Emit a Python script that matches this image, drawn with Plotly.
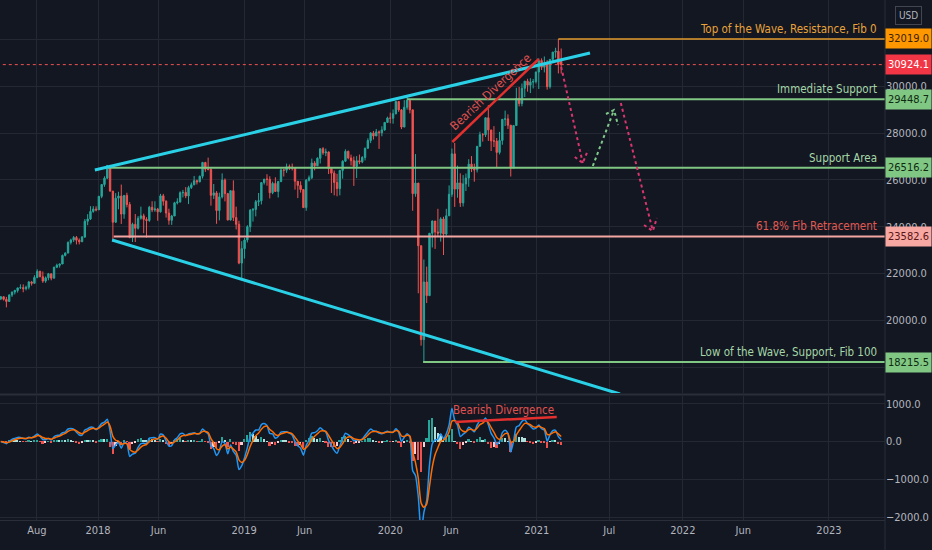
import pandas as pd
import plotly.graph_objects as go
from plotly.subplots import make_subplots

# ---------------- data (weekly DJI candles) ----------------
first_week = "2017-05-03"

opens = [
    20913, 21007, 20897, 20805, 21080, 21206, 21272, 21384, 21395, 21350, 21414, 21638, 21580, 21830, 22092, 21858, 21674, 21814,
    21988, 21798, 22268, 22350, 22405, 22773, 22871, 23329, 23434, 23539, 23422, 23358, 23558, 24231, 24329, 24651, 24754,
    24719, 25296, 25803, 26072, 26617, 25521, 24191, 25219, 25310, 24538, 25336, 24947, 23533, 24103, 23933, 24360, 24463, 24311,
    24263, 24831, 24715, 24753, 24635, 25317, 25090, 24581, 24271, 24456, 25019, 25058, 25451, 25463, 25313, 25669, 25790, 25965,
    25917, 26155, 26744, 26458, 26447, 25340, 25444, 24688, 25271, 25989, 25413, 24286, 25538, 24389, 24101, 22445,
    23062, 23433, 23996, 24706, 24737, 25064, 25106, 25883, 26031, 26026, 25450, 25849, 25502, 25929, 26425, 26412, 26559, 26543,
    26505, 25942, 25764, 25586, 24815, 25984, 26090, 26719, 26600, 26922, 27332, 27154, 27192, 26485, 26287, 25886, 25629, 26403,
    26797, 27220, 26935, 26820, 26573, 26817, 26770, 26958, 27347, 27681, 28005, 27876, 28051, 28015, 28135, 28455,
    28645, 28634, 28824, 29348, 28990, 28256, 29103, 29398, 28992, 25409, 25864, 23186, 19174, 21637, 21053, 23719, 24242, 23775,
    23724, 24331, 23685, 24465, 25383, 27111, 25606, 25871, 25016, 25827, 26075, 26672, 26470, 26428, 27433, 27931, 27930, 28654,
    28133, 27666, 27657, 27174, 27683, 28587, 28606, 28336, 26502, 28323, 29480, 29263, 29910, 30218, 30046, 30179, 30200,
    30606, 31098, 30814, 30997, 29983, 31148, 31458, 31494, 31065,
]
highs = [
    21033, 21013, 21000, 21112, 21225, 21305, 21392, 21536, 21535, 21480, 21681, 21681, 21929, 22179, 22118, 22085, 21874, 22024,
    21988, 22287, 22420, 22422, 22806, 22905, 23368, 23485, 23602, 23602, 23498, 23602, 24327, 24534, 24876, 24876, 24872,
    25316, 25810, 26153, 26617, 26617, 25521, 25432, 25490, 25800, 25336, 25449, 25052, 24170, 24540, 24450, 24858, 24554, 24404,
    24889, 25086, 25087, 24800, 25402, 25402, 25125, 24767, 24504, 25063, 25215, 25510, 25572, 25692, 25746, 25887, 26167, 26010,
    26181, 26769, 26769, 26951, 26500, 25824, 25520, 25452, 26277, 26062, 25443, 25539, 25980, 24856, 24253, 23381,
    23518, 24064, 24750, 24798, 25140, 25439, 25883, 26034, 26241, 26155, 25922, 26110, 25949, 26487, 26460, 26695, 26656, 26695,
    26505, 25942, 25938, 25600, 26036, 26186, 26907, 26800, 26966, 27332, 27398, 27335, 27212, 26485, 26400, 26259, 26429, 26837,
    27306, 27250, 27079, 26998, 27014, 27082, 27013, 27383, 27775, 28036, 28090, 28175, 28110, 28290, 28471, 28701,
    28872, 29009, 29374, 29373, 29028, 29409, 29568, 29410, 28992, 27102, 25864, 23186, 22595, 22293, 23719, 24264, 24242, 24764,
    24404, 24423, 24764, 25763, 27338, 27580, 26611, 26277, 26204, 26273, 26882, 27016, 26692, 27433, 28058, 28000, 28659, 29199,
    28133, 28295, 27788, 28050, 28600, 28958, 28800, 28336, 28347, 29933, 29967, 30117, 30219, 30319, 30343, 30309, 30627,
    31194, 31193, 31272, 31115, 31160, 31468, 31644, 32019, 31613,
]
lows = [
    20863, 20843, 20553, 20789, 20999, 21107, 21184, 21332, 21197, 21279, 21320, 21483, 21574, 21796, 21844, 21600, 21600, 21710,
    21709, 21798, 22229, 22250, 22405, 22730, 22866, 23237, 23349, 23242, 23242, 23340, 23523, 24065, 24285, 24595, 24653,
    24719, 25218, 25704, 26033, 25490, 23360, 24160, 24742, 24117, 24340, 24826, 23509, 23344, 23345, 23880, 24300, 23723, 23531,
    24205, 24621, 24634, 24253, 24602, 24900, 24387, 24084, 24076, 24456, 24951, 25030, 25250, 25217, 24965, 25611, 25770, 25803,
    25894, 26058, 26339, 26404, 24899, 25183, 24122, 24268, 25206, 25080, 24268, 24262, 24242, 23881, 22396, 21713,
    22638, 23325, 23774, 24218, 24439, 24883, 24950, 25800, 25750, 25208, 25387, 25502, 25247, 25900, 26143, 26300, 26420, 26403,
    25584, 25222, 25456, 24815, 24680, 25930, 26030, 26407, 26600, 26700, 27068, 27014, 26250, 25440, 25339, 25300, 25338, 26051,
    26769, 26880, 26615, 25743, 26078, 26670, 26711, 26832, 27347, 27570, 27726, 27876, 27325, 27863, 28100, 28440,
    28418, 28400, 28800, 28904, 28169, 28256, 29000, 28842, 24681, 25279, 21154, 18917, 18213, 20735, 21053, 23111, 23051, 23574,
    23362, 22789, 23617, 24465, 25273, 24843, 25236, 24843, 24862, 25523, 25704, 26333, 25922, 26317, 27433, 27633, 27831, 27664,
    27233, 27402, 26537, 27088, 27500, 28300, 28177, 26143, 26502, 28323, 29139, 29144, 29540, 29769, 29708, 29904, 30117,
    29881, 30694, 30591, 29856, 29900, 31002, 31215, 30548, 30547,
]
closes = [
    21007, 20897, 20805, 21080, 21206, 21272, 21384, 21395, 21350, 21414, 21638, 21580, 21830, 22092, 21858, 21674, 21814, 21988,
    21798, 22268, 22350, 22405, 22773, 22871, 23329, 23434, 23539, 23422, 23358, 23558, 24231, 24329, 24651, 24754, 24719,
    25296, 25803, 26072, 26617, 25521, 24191, 25219, 25310, 24538, 25336, 24947, 23533, 24103, 23933, 24360, 24463, 24311, 24263,
    24831, 24715, 24753, 24635, 25317, 25090, 24581, 24271, 24456, 25019, 25058, 25451, 25463, 25313, 25669, 25790, 25965, 25917,
    26155, 26744, 26458, 26447, 25340, 25444, 24688, 25271, 25989, 25413, 24286, 25538, 24389, 24101, 22445, 23062,
    23433, 23996, 24706, 24737, 25064, 25106, 25883, 26031, 26026, 25450, 25849, 25502, 25929, 26425, 26412, 26559, 26543, 26505,
    25942, 25764, 25586, 24815, 25984, 26090, 26719, 26600, 26922, 27332, 27154, 27192, 26485, 26287, 25886, 25629, 26403, 26797,
    27220, 26935, 26820, 26573, 26817, 26770, 26958, 27347, 27681, 28005, 27876, 28051, 28015, 28135, 28455, 28645,
    28634, 28824, 29348, 28990, 28256, 29103, 29398, 28992, 25409, 25864, 23186, 19174, 21637, 21053, 23719, 24242, 23775, 23724,
    24331, 23685, 24465, 25383, 27111, 25606, 25871, 25016, 25827, 26075, 26672, 26470, 26428, 27433, 27931, 27930, 28654, 28133,
    27666, 27657, 27174, 27683, 28587, 28606, 28336, 26502, 28323, 29480, 29263, 29910, 30218, 30046, 30179, 30200, 30606,
    31098, 30814, 30997, 29983, 31148, 31458, 31494, 30932, 30924,
]

# Horizontal levels
level_prices = [32019.0, 29448.7, 26516.2, 23582.6, 18215.5]
level_starts = ["2021-02-24", "2020-02-12", "2018-01-26", "2018-02-09", "2020-03-23"]
level_names = ["Top of the Wave, Resistance, Fib 0", "Immediate Support", "Support Area",
               "61.8% Fib Retracement", "Low of the Wave, Support, Fib 100"]
last_price = 30924.1

# Drawn trend lines (dates, prices)
wedge_top_x = ["2017-12-24", "2021-05-14"]
wedge_top_y = [26421, 31421]
wedge_bot_x = ["2018-02-05", "2021-07-28"]
wedge_bot_y = [23430, 16850]
div_price_x = ["2020-06-04", "2021-01-06"]
div_price_y = [27618, 31164]
div_macd_x = ["2020-06-11", "2021-02-20"]
div_macd_y = [520, 650]

# Projected path arrows (dotted): shaft start/end, wing-tip / tip / wing-tip
proj1_x = ["2021-03-03", "2021-04-26"]; proj1_y = [30823, 26720]
proj1_wx = ["2021-04-06", "2021-04-26", "2021-05-09"]; proj1_wy = [26977, 26720, 27276]
proj2_x = ["2021-05-21", "2021-07-13"]; proj2_y = [26592, 28985]
proj2_wx = ["2021-06-23", "2021-07-13", "2021-07-23"]; proj2_wy = [28814, 28985, 28344]
proj3_x = ["2021-07-30", "2021-10-18"]; proj3_y = [29284, 23815]
proj3_wx = ["2021-09-26", "2021-10-18", "2021-10-28"]; proj3_wy = [24071, 23815, 24370]

tick_dates = ["2017-08-01", "2018-01-01", "2018-06-01", "2019-01-01", "2019-06-01", "2020-01-01",
              "2020-06-01", "2021-01-01", "2021-07-01", "2022-01-01", "2022-06-01", "2023-01-01"]
tick_names = ["Aug", "2018", "Jun", "2019", "Jun", "2020", "Jun", "2021", "Jul", "2022", "Jun", "2023"]
price_ticks = [18000, 20000, 22000, 24000, 26000, 28000, 30000, 32000]
price_tick_text = ["", "20000.0", "22000.0", "24000.0", "26000.0", "28000.0", "30000.0", ""]
macd_ticks = [-2000, -1000, 0, 1000]
macd_tick_text = ["\u22122000.0", "\u22121000.0", "0.0", "1000.0"]

# MACD indicator settings, as lags in weeks of the fast / slow / signal EMAs
fast_lag, slow_lag, signal_lag = 1.0, 2.8, 1.2

# ---------------- derived series: MACD on the weekly closes ----------------
dates = pd.date_range(first_week, periods=len(closes), freq="7D")
cs = pd.Series(closes, dtype=float)
fast = cs.ewm(alpha=1 / (1 + fast_lag), adjust=False).mean()
slow = cs.ewm(alpha=1 / (1 + slow_lag), adjust=False).mean()
macd = fast - slow
signal = macd.ewm(alpha=1 / (1 + signal_lag), adjust=False).mean()
hist = macd - signal
hist_colors = []
prev = 0.0
for h in hist:
    if h >= 0:
        hist_colors.append("#26a69a" if h > prev else "#b2dfdb")
    else:
        hist_colors.append("#ffcdd2" if h > prev else "#ef5350")
    prev = h

# ---------------- figure ----------------
BG = "#131722"
GRID = "#242833"
TXT = "#b2b5be"
FONT = "DejaVu Sans Condensed, Liberation Sans, sans-serif"
X_END = "2023-05-21"

fig = make_subplots(rows=2, cols=1, shared_xaxes=True, vertical_spacing=0.005)

fig.add_trace(go.Candlestick(
    x=dates, open=opens, high=highs, low=lows, close=closes,
    increasing=dict(line=dict(color="#26a69a", width=1), fillcolor="#26a69a"),
    decreasing=dict(line=dict(color="#ef5350", width=1), fillcolor="#ef5350"),
    whiskerwidth=0, hoverinfo="skip"), row=1, col=1)

line_cols = ["#e39b2d", "#81c784", "#81c784", "#f4a6a3", "#81c784"]
line_w = [1.5, 2, 2, 2, 2]
label_cols = ["#e8a33a", "#a5d6a7", "#a5d6a7", "#e05a52", "#a5d6a7"]
box_cols = ["#ff9800", "#81c784", "#81c784", "#f7a8a3", "#81c784"]
box_txt = ["#3a2200", "#0e2a10", "#0e2a10", "#5a1414", "#0e2a10"]

for p, s, lc, lw in zip(level_prices, level_starts, line_cols, line_w):
    fig.add_trace(go.Scatter(x=[s, X_END], y=[p, p], mode="lines",
                             line=dict(color=lc, width=lw), hoverinfo="skip"), row=1, col=1)

fig.add_trace(go.Scatter(x=[dates[0] - pd.Timedelta(days=10), X_END], y=[last_price, last_price], mode="lines",
                         line=dict(color="#ef5350", width=1, dash="dot"), hoverinfo="skip"), row=1, col=1)

for xs, ys in [(wedge_top_x, wedge_top_y), (wedge_bot_x, wedge_bot_y)]:
    fig.add_trace(go.Scatter(x=xs, y=ys, mode="lines", line=dict(color="#2ad1e6", width=3),
                             hoverinfo="skip"), row=1, col=1)
fig.add_trace(go.Scatter(x=div_price_x, y=div_price_y, mode="lines", line=dict(color="#e3302e", width=2.5),
                         hoverinfo="skip"), row=1, col=1)

for (xs, ys, wx, wy, col) in [(proj1_x, proj1_y, proj1_wx, proj1_wy, "#d9366e"),
                              (proj2_x, proj2_y, proj2_wx, proj2_wy, "#7fc98a"),
                              (proj3_x, proj3_y, proj3_wx, proj3_wy, "#d9366e")]:
    fig.add_trace(go.Scatter(x=xs, y=ys, mode="lines", line=dict(color=col, width=2, dash="dot"),
                             hoverinfo="skip"), row=1, col=1)
    fig.add_trace(go.Scatter(x=wx, y=wy, mode="lines", line=dict(color=col, width=2, dash="dot"),
                             hoverinfo="skip"), row=1, col=1)

# MACD panel
fig.add_trace(go.Bar(x=dates, y=hist, marker=dict(color=hist_colors, line=dict(width=0)),
                     width=4.2 * 86400000, hoverinfo="skip"), row=2, col=1)
fig.add_trace(go.Scatter(x=dates, y=macd, mode="lines", line=dict(color="#2196f3", width=1.5, shape="spline",
                         smoothing=0.6), hoverinfo="skip"), row=2, col=1)
fig.add_trace(go.Scatter(x=dates, y=signal, mode="lines", line=dict(color="#ff6d00", width=1.5, shape="spline",
                         smoothing=0.6), hoverinfo="skip"), row=2, col=1)
fig.add_trace(go.Scatter(x=div_macd_x, y=div_macd_y, mode="lines", line=dict(color="#e3302e", width=2.5),
                         hoverinfo="skip"), row=2, col=1)

ann = []
for p, name, lcol in zip(level_prices, level_names, label_cols):
    ann.append(dict(x=879 / 885, xref="paper", y=p, yref="y", xanchor="right", yanchor="bottom",
                    yshift=1, text=name, showarrow=False, font=dict(color=lcol, size=11.5, family=FONT)))
for p, bc, tc in zip(level_prices + [last_price], box_cols + ["#f23645"], box_txt + ["#ffffff"]):
    ann.append(dict(x=1.0, xref="paper", y=p, yref="y", xanchor="left", yanchor="middle",
                    text=f"{p:.1f}", showarrow=False, bgcolor=bc, width=43, height=17,
                    font=dict(color=tc, size=11, family=FONT)))
ann.append(dict(x=1 + 23.5 / 885, xref="paper", y=1, yref="paper", xanchor="center", yanchor="top",
                yshift=-6, text="USD", showarrow=False, bordercolor="#434651", borderwidth=1, borderpad=3,
                font=dict(color=TXT, size=10, family=FONT)))
ann.append(dict(x="2020-09-08", y=29750, xref="x", yref="y", text="Bearish Divergence", textangle=-43,
                showarrow=False, font=dict(color="#e0524f", size=12, family=FONT)))
ann.append(dict(x="2020-10-11", y=830, xref="x2", yref="y2", text="Bearish Divergence",
                showarrow=False, font=dict(color="#e0524f", size=11.5, family=FONT)))

shapes = [
    dict(type="line", xref="paper", yref="paper", x0=0, x1=1, y0=0.2413, y1=0.2413,
         line=dict(color="#2a2e39", width=2)),
    dict(type="line", xref="paper", yref="paper", x0=1, x1=1, y0=-0.06, y1=1,
         line=dict(color="#2a2e39", width=1)),
]

tickfont = dict(color=TXT, size=11, family=FONT)
fig.update_layout(
    width=932, height=550, margin=dict(l=0, r=47, t=0, b=30),
    paper_bgcolor=BG, plot_bgcolor=BG, showlegend=False, bargap=0,
    annotations=ann, shapes=shapes,
    xaxis=dict(range=["2017-05-01", X_END], tickvals=tick_dates, showticklabels=False,
               rangeslider=dict(visible=False), showline=False, zeroline=False, gridcolor=GRID),
    xaxis2=dict(range=["2017-05-01", X_END], tickvals=tick_dates, ticktext=tick_names, ticks="",
                showline=True, linecolor="#2a2e39", zeroline=False, gridcolor=GRID, tickfont=tickfont),
    yaxis=dict(domain=[0.2442, 1], range=[16893, 33685], side="right", tickvals=price_ticks,
               ticktext=price_tick_text, ticks="", showline=False, zeroline=False, gridcolor=GRID,
               tickfont=tickfont),
    yaxis2=dict(domain=[0, 0.2385], range=[-2079, 1210], side="right", tickvals=macd_ticks,
                ticktext=macd_tick_text, ticks="", showline=False, zeroline=False, gridcolor=GRID,
                tickfont=tickfont),
)

fig.write_html("out.html", config={"displayModeBar": False},
               post_script="document.body.style.margin='0px';document.body.style.background='#131722';")
